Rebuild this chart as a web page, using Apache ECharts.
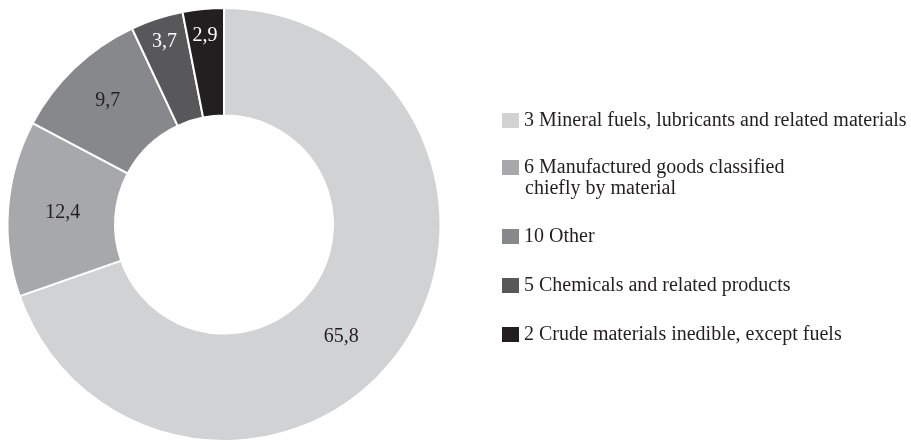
<!DOCTYPE html>
<html>
<head>
<meta charset="utf-8">
<script src="https://cdn.jsdelivr.net/npm/echarts@6/dist/echarts.min.js"></script>
<style>html,body{margin:0;padding:0;background:#fff;}#c{width:911px;height:442px;}</style>
</head>
<body>
<div id="c"></div>
<script>
// Data
var categories = [
  '3 Mineral fuels, lubricants and related materials',
  '6 Manufactured goods classified',
  '10 Other',
  '5 Chemicals and related products',
  '2 Crude materials inedible, except fuels'
];
var values = [65.8, 12.4, 9.7, 3.7, 2.9];
var valueLabels = ['65,8', '12,4', '9,7', '3,7', '2,9'];
var secondLine = 'chiefly by material';

// Styles
var colors = ['#d1d2d4', '#a7a8ab', '#87888b', '#58585a', '#231f20'];
var labelColors = ['#231f20', '#231f20', '#231f20', '#ffffff', '#ffffff'];
var labelOffsets = [[-18, 16], [4, 1], [-2, -4], [-8, -25], [-3, -24]];
var FONT = '"Liberation Serif", "DejaVu Serif", serif';

var pieData = categories.map(function (c, i) {
  return {
    name: c,
    value: values[i],
    itemStyle: { color: colors[i] },
    label: { color: labelColors[i], offset: labelOffsets[i], formatter: valueLabels[i] }
  };
});

var legendText = { fontFamily: FONT, fontSize: 20, color: '#231f20', lineHeight: 20 };
var legendCommon = {
  orient: 'vertical', left: 502, padding: 0, itemWidth: 17, itemHeight: 15, itemGap: 0,
  icon: 'rect', textStyle: legendText, selectedMode: false, textGap: 7,
  itemStyle: { borderWidth: 0 }
};

var chart = echarts.init(document.getElementById('c'), null, { renderer: 'canvas' });
chart.setOption({
  backgroundColor: '#ffffff',
  animation: false,
  legend: [
    Object.assign({}, legendCommon, { top: 110.5, itemGap: 27, data: [categories[0], categories[1]] }),
    Object.assign({}, legendCommon, { top: 226.5, itemGap: 29, data: [categories[2], categories[3], categories[4]] })
  ],
  graphic: [{
    type: 'text', left: 525, top: 179,
    style: { text: secondLine, font: '20px ' + FONT, fill: '#231f20' }
  }],
  series: [{
    type: 'pie',
    center: [224, 224.5],
    radius: [109, 216.5],
    startAngle: 90,
    clockwise: true,
    avoidLabelOverlap: false,
    silent: true,
    itemStyle: { borderColor: '#ffffff', borderWidth: 2 },
    label: { show: true, position: 'inside', fontFamily: FONT, fontSize: 20 },
    labelLine: { show: false },
    data: pieData
  }]
});
</script>
</body>
</html>
